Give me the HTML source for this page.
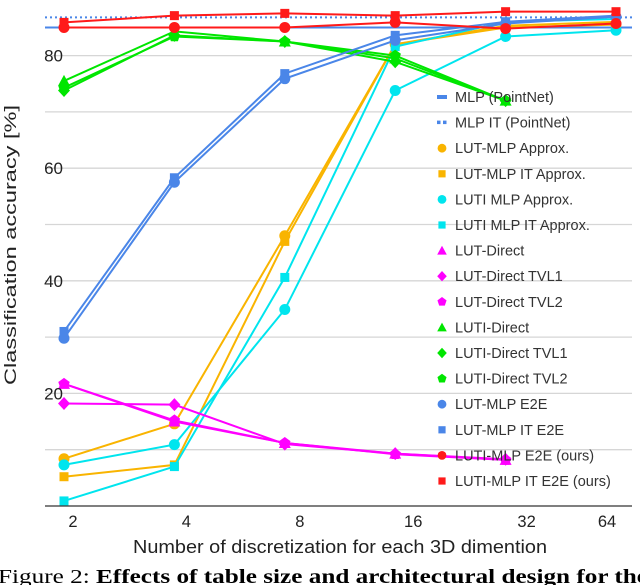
<!DOCTYPE html>
<html><head><meta charset="utf-8"><style>
html,body{margin:0;padding:0;background:#fff;width:640px;height:585px;overflow:hidden}
svg{display:block}
text{font-family:"Liberation Sans",sans-serif}
</style></head><body>
<svg id="chart" width="640" height="585">
<g id="grid"></g>
<g id="series"></g>
<g id="axes"></g>
<g id="legend"></g>
<text x="16" y="245" font-size="17" text-anchor="middle" textLength="280" lengthAdjust="spacingAndGlyphs" transform="rotate(-90 16 245)" fill="#222">Classification accuracy [%]</text>
<text x="340" y="553" font-size="18.5" text-anchor="middle" textLength="414" lengthAdjust="spacingAndGlyphs" fill="#222">Number of discretization for each 3D dimention</text>
<text x="-2" y="583" font-size="20" textLength="650" lengthAdjust="spacingAndGlyphs" fill="#000" style="font-family:'Liberation Serif',serif">Figure 2:   <tspan font-weight="bold">Effects of table size and architectural design for the</tspan></text>
</svg>
<script>
const categories=["2","4","8","16","32","64"];
const yTicks=[20,40,60,80];
const mlpPointNet=85.0;
const mlpItPointNet=86.8;
const lutMlpApprox=[8.4,14.6,48.0,82.0,85.0,85.5];
const lutMlpItApprox=[5.2,7.3,47.0,82.0,85.3,86.0];
const lutiMlpApprox=[7.3,10.9,34.9,73.8,83.4,84.5];
const lutiMlpItApprox=[0.9,7.0,40.6,81.6,86.0,86.5];
const lutDirect=[21.7,15.0,11.2,9.3,8.2,null];
const lutDirectTvl1=[18.2,18.0,11.0,9.3,8.3,null];
const lutDirectTvl2=[21.7,15.2,11.2,9.2,8.2,null];
const lutiDirect=[75.5,84.3,82.5,79.5,72.0,null];
const lutiDirectTvl1=[73.8,83.6,82.5,78.9,72.0,null];
const lutiDirectTvl2=[74.3,83.4,82.5,80.0,72.0,null];
const lutMlpE2E=[29.8,57.5,75.9,82.7,85.7,86.9];
const lutMlpItE2E=[31.0,58.3,76.8,83.6,86.0,87.1];
const lutiMlpE2E=[85.0,85.0,85.0,85.9,84.8,85.7];
const lutiMlpItE2E=[85.9,87.1,87.5,87.1,87.8,87.8];

const NS="http://www.w3.org/2000/svg";
const X0=64,DX=110.4,Y0=506,SY=5.63,L=45,R=632;
function x(i){return X0+i*DX;}
function y(v){return Y0-v*SY;}
function mk(tag,attrs,parent){const e=document.createElementNS(NS,tag);for(const k in attrs)e.setAttribute(k,attrs[k]);parent.appendChild(e);return e;}
const grid=document.getElementById('grid'),axes=document.getElementById('axes'),ser=document.getElementById('series'),leg=document.getElementById('legend');
for(let v=10;v<=90;v+=10){const l=mk('line',{x1:L,x2:R,y1:y(v),y2:y(v),stroke:'#d6d6d6','stroke-width':1.3},grid);

}
const ax=mk('line',{x1:L,x2:R,y1:Y0,y2:Y0,stroke:'#333','stroke-width':1.3},axes);


yTicks.forEach(v=>{const t=mk('text',{x:63,y:y(v)+6,'font-size':17,'text-anchor':'end',fill:'#222'},axes);t.textContent=v;

});
categories.forEach((c,i)=>{const lx=Math.min(x(i)+9+i*3,607);const t=mk('text',{x:lx,y:527,'font-size':16.5,'text-anchor':'middle',fill:'#222'},axes);t.textContent=c;

});
const h1=mk('line',{x1:L,x2:R,y1:y(mlpPointNet),y2:y(mlpPointNet),stroke:'#4a86e8','stroke-width':2},ser);


const h2=mk('line',{x1:L,x2:R,y1:y(mlpItPointNet),y2:y(mlpItPointNet),stroke:'#4a86e8','stroke-width':2,'stroke-dasharray':'2 3'},ser);


function marker(shape,cx,cy,col,g,s){
 s=s||1;
 if(shape==='circle')return mk('circle',{cx,cy,r:5.5*s,fill:col},g);
 if(shape==='square')return mk('rect',{x:cx-4.5*s,y:cy-4.5*s,width:9*s,height:9*s,fill:col},g);
 if(shape==='triangle')return mk('polygon',{points:`${cx},${cy-6*s} ${cx+6*s},${cy+5*s} ${cx-6*s},${cy+5*s}`,fill:col},g);
 if(shape==='diamond')return mk('polygon',{points:`${cx},${cy-6.5*s} ${cx+6*s},${cy} ${cx},${cy+6.5*s} ${cx-6*s},${cy}`,fill:col},g);
 if(shape==='pentagon'){let p=[];for(let k=0;k<5;k++){const a=-Math.PI/2+k*2*Math.PI/5;p.push((cx+6*s*Math.cos(a))+','+(cy+6*s*Math.sin(a)));}return mk('polygon',{points:p.join(' '),fill:col},g);}
}
const seriesList=[
 ['LUT-MLP Approx.',lutMlpApprox,'#f9b400','circle'],
 ['LUT-MLP IT Approx.',lutMlpItApprox,'#f9b400','square'],
 ['LUTI MLP Approx.',lutiMlpApprox,'#00e5ee','circle'],
 ['LUTI MLP IT Approx.',lutiMlpItApprox,'#00e5ee','square'],
 ['LUT-Direct',lutDirect,'#ff00ff','triangle'],
 ['LUT-Direct TVL1',lutDirectTvl1,'#ff00ff','diamond'],
 ['LUT-Direct TVL2',lutDirectTvl2,'#ff00ff','pentagon'],
 ['LUTI-Direct',lutiDirect,'#00e600','triangle'],
 ['LUTI-Direct TVL1',lutiDirectTvl1,'#00e600','diamond'],
 ['LUTI-Direct TVL2',lutiDirectTvl2,'#00e600','pentagon'],
 ['LUT-MLP E2E',lutMlpE2E,'#4a86e8','circle'],
 ['LUT-MLP IT E2E',lutMlpItE2E,'#4a86e8','square'],
 ['LUTI-MLP E2E (ours)',lutiMlpE2E,'#ff1a1a','circle'],
 ['LUTI-MLP IT E2E (ours)',lutiMlpItE2E,'#ff1a1a','square']
];
seriesList.forEach(([name,vals,col,shape])=>{
 const g=mk('g',{},ser);
 
 
 const pts=[];vals.forEach((v,i)=>{if(v!==null)pts.push(x(i)+','+y(v));});
 const pl=mk('polyline',{points:pts.join(' '),fill:'none',stroke:col,'stroke-width':2},g);
 
 
 vals.forEach((v,i)=>{if(v===null)return;const m=marker(shape,x(i),y(v),col,g);
  
  });
});
const legItems=[['MLP (PointNet)','#4a86e8','line'],['MLP IT (PointNet)','#4a86e8','dots']].concat(seriesList.map(s=>[s[0],s[2],s[3]]));
legItems.forEach(([name,col,shape],k)=>{
 const ly=97+k*25.6;
 const g=mk('g',{},leg);
 
 
 if(shape==='line')mk('rect',{x:437,y:ly-2,width:10,height:4,fill:col},g);
 else if(shape==='dots'){mk('rect',{x:437,y:ly-2,width:3.5,height:3.5,fill:col},g);mk('rect',{x:443,y:ly-2,width:3.5,height:3.5,fill:col},g);}
 else marker(shape,442,ly,col,g,0.8);
 const t=mk('text',{x:455,y:ly+5,'font-size':14.5,fill:'#333'},g);t.textContent=name;
});
</script>
</body></html>
